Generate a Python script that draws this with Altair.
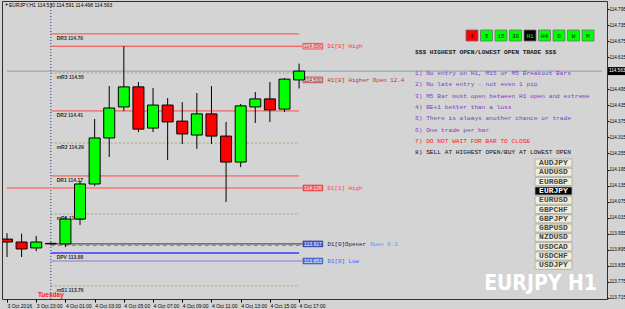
import json
import altair as alt
import pandas as pd

# ---------------- data ----------------
hours  = [-3, -2, -1, 0, 1, 2, 3, 4, 5, 6, 7, 8, 9, 10, 11, 12, 13, 14, 15, 16, 17]
opens  = [113.935, 113.924, 113.902, 113.917, 113.917, 114.010, 114.141, 114.313, 114.429, 114.504, 114.350,
          114.436, 114.376, 114.324, 114.403, 114.320, 114.223, 114.429, 114.459, 114.421, 114.530]
highs  = [113.957, 113.955, 113.947, 113.922, 114.018, 114.152, 114.384, 114.507, 114.656, 114.522, 114.500,
          114.462, 114.447, 114.481, 114.507, 114.373, 114.440, 114.485, 114.522, 114.537, 114.591]
lows   = [113.868, 113.868, 113.890, 113.915, 113.905, 113.988, 114.133, 114.242, 114.414, 114.335, 114.335,
          114.231, 114.290, 114.272, 114.290, 114.074, 114.204, 114.369, 114.373, 114.410, 114.498]
closes = [113.924, 113.898, 113.924, 113.919, 114.010, 114.141, 114.313, 114.425, 114.504, 114.346, 114.436,
          114.373, 114.328, 114.403, 114.320, 114.223, 114.433, 114.459, 114.418, 114.533, 114.563]

xtick_hours = [-3, -1, 1, 3, 5, 7, 9, 11, 13, 15, 17]
xtick_labels = ["3 Oct 2016", "3 Oct 23:00", "4 Oct 01:00", "4 Oct 03:00", "4 Oct 05:00", "4 Oct 07:00",
                "4 Oct 09:00", "4 Oct 11:00", "4 Oct 13:00", "4 Oct 15:00", "4 Oct 17:00"]
ytick_values = [113.715, 113.775, 113.835, 113.895, 113.955, 114.015, 114.075, 114.135, 114.195, 114.255,
                114.315, 114.375, 114.435, 114.495, 114.615, 114.675, 114.735, 114.795]

bid_price = 114.563
title_text = "EURJPY,H1  114.530 114.591 114.498 114.563"

pivot_names  = ["DR3", "mR3", "DR2", "mR2", "DR1", "mR1", "DPV", "mS1"]
pivot_prices = [114.702, 114.556, 114.414, 114.294, 114.171, 114.029, 113.883, 113.760]
pivot_texts  = ["114.70", "114.55", "114.41", "114.29", "114.17", "114.03", "113.88", "113.76"]

d1_names  = ["D1[0] High", "H1[0] Higher Open 12.4", "D1[1] High", "D1[0]Opener", "D1[0] Low"]
d1_prices = [114.656, 114.530, 114.126, 113.917, 113.853]
d1_boxes  = ["114.656", "114.530", "114.126", "113.917", "113.853"]
opener_extra = "Open 6.3"

tf_labels = ["1", "5", "15", "30", "H1", "H4", "D", "W", "M"]
tf_state  = ["red", "green", "green", "green", "active", "green", "green", "green", "green"]

header_text = "$$$ HIGHEST OPEN/LOWEST OPEN TRADE $$$"
rules_text = ["1) No entry on H1, M15 or M5 Breakout Bars",
              "2) No late entry - not even 1 pip",
              "3) M5 Bar must open between H1 open and extreme",
              "4) BE+1 better than a loss",
              "5) There is always another chance or trade",
              "6) One trade per bar",
              "7) DO NOT WAIT FOR BAR TO CLOSE",
              "8) SELL AT HIGHEST OPEN/BUY AT LOWEST OPEN"]
rules_kind = ["rule", "rule", "rule", "rule", "rule", "rule", "warn", "key"]

pairs = ["AUDJPY", "AUDUSD", "EURGBP", "EURJPY", "EURUSD", "GBPCHF",
         "GBPJPY", "GBPUSD", "NZDUSD", "USDCAD", "USDCHF", "USDJPY"]
selected_pair = "EURJPY"
watermark = "EURJPY H1"
day_name = "Tuesday"

# ---------------- layout / style ----------------
PX_PER_HOUR = 14.85
W, H = 605, 298
X0 = -3.0
X1 = X0 + W / PX_PER_HOUR
Y0, Y1 = 113.711, 114.825
PPP = H / (Y1 - Y0)
BG = "#d4d4d4"
SANS = "Liberation Sans"
MONO = "Liberation Mono"

def hx(img_x):  # image pixel x -> hour value
    return X0 + (img_x - 2) / PX_PER_HOUR

xs = alt.Scale(domain=[X0, X1], nice=False, zero=False)
ys = alt.Scale(domain=[Y0, Y1], nice=False, zero=False)

label_expr = f"{json.dumps(xtick_labels)}[indexof({json.dumps(xtick_hours)}, datum.value)]"
xaxis = alt.Axis(values=xtick_hours, labelExpr=label_expr, title=None, grid=False, domain=False,
                 orient="bottom", labelAlign="left", labelBaseline="top", labelFont=SANS,
                 labelFontSize=5, labelColor="#000000", tickColor="#000000", tickSize=3,
                 labelPadding=1, labelOverlap=False, labelFlush=False)
yaxis = alt.Axis(values=ytick_values, format=".3f", title=None, grid=False, domain=False,
                 orient="right", labelFont=SANS, labelFontSize=4.6, labelColor="#000000",
                 tickColor="#000000", tickSize=2, labelPadding=0, labelOverlap=False, labelFlush=False)

def X(f):
    return alt.X(f, type="quantitative", scale=xs, axis=xaxis)

def Y(f):
    return alt.Y(f, type="quantitative", scale=ys, axis=yaxis)

layers = []

# --- bid line & day separator ---
bid_df = pd.DataFrame({"h0": [X0], "h1": [X1], "p": [bid_price]})
layers.append(alt.Chart(bid_df).mark_rule(color="#8a98ac", strokeWidth=1).encode(x=X("h0"), x2="h1", y=Y("p")))
sep_df = pd.DataFrame({"h": [0]})
layers.append(alt.Chart(sep_df).mark_rule(color="#34347a", strokeWidth=1, strokeDash=[1, 2]).encode(x=X("h")))

# --- pivot lines ---
piv = pd.DataFrame({"name": pivot_names, "price": pivot_prices, "txt": pivot_texts})
piv["h0"] = 0.0
piv["h1"] = 17.0
piv["lab"] = piv["name"] + "   " + piv["txt"]
piv["lx"] = 0.4
kind = ["P" if n == "DPV" else n[0] for n in pivot_names]
piv["kind"] = kind
styles = {"D": dict(color="#ff4a4a", strokeWidth=1),
          "m": dict(color="#a8a46a", strokeWidth=1, strokeDash=[2, 2]),
          "P": dict(color="#3a3aff", strokeWidth=1.5)}
for key, st in styles.items():
    sub = piv[piv["kind"] == key]
    layers.append(alt.Chart(sub).mark_rule(**st).encode(x=X("h0"), x2="h1", y=Y("price")))
layers.append(alt.Chart(piv).mark_text(align="left", baseline="middle", dy=4, font=SANS, fontSize=5,
                                       fontWeight="bold", color="#303030")
              .encode(x=X("lx"), y=Y("price"), text="lab"))

# --- D1 level lines ---
d1 = pd.DataFrame({"name": d1_names, "price": d1_prices, "box": d1_boxes})
end_h = hx(302)
d1_line_h0 = [0.0, None, X0, 0.0, 0.0]
d1_line_col = ["#ff4040", None, "#f08c8c", "#333333", "#7c7ce0"]
d1_line_w = [1, None, 2, 1, 1]
for i in range(len(d1)):
    if d1_line_h0[i] is None:
        continue
    seg = pd.DataFrame({"h0": [d1_line_h0[i]], "h1": [end_h], "p": [d1_prices[i]]})
    layers.append(alt.Chart(seg).mark_rule(color=d1_line_col[i], strokeWidth=d1_line_w[i])
                  .encode(x=X("h0"), x2="h1", y=Y("p")))
# dashed blue companion of the daily open
seg = pd.DataFrame({"h0": [0.0], "h1": [end_h], "p": [d1_prices[3] - 1.6 / PPP]})
layers.append(alt.Chart(seg).mark_rule(color="#5a8fd8", strokeWidth=1, strokeDash=[4, 3])
              .encode(x=X("h0"), x2="h1", y=Y("p")))

d1["bx0"] = hx(303)
d1["bx1"] = hx(323)
d1["bxc"] = hx(313)
d1["tx"] = hx(328)
d1["yb0"] = d1["price"] - 2.8 / PPP
d1["yb1"] = d1["price"] + 2.8 / PPP
d1["bfill"] = ["#efcaca", "#ddd0d0", "#f06262", "#3f5fcf", "#4f6fe0"]
d1["bstroke"] = ["#ff3030", "#b03030", "#e03030", "#203090", "#3050c0"]
d1["btext"] = ["#e02020", "#a02020", "#ffe8e8", "#ffffff", "#ffffff"]
d1["tcol"] = ["#ff3030", "#c03030", "#ff4040", "#202040", "#4060ff"]
layers.append(alt.Chart(d1).mark_rect(strokeWidth=0.8)
              .encode(x=X("bx0"), x2="bx1", y=Y("yb0"), y2="yb1",
                      fill=alt.Fill("bfill:N", scale=None), stroke=alt.Stroke("bstroke:N", scale=None)))
layers.append(alt.Chart(d1).mark_text(align="center", baseline="middle", font=SANS, fontSize=5)
              .encode(x=X("bxc"), y=Y("price"), text="box", color=alt.Color("btext:N", scale=None)))
layers.append(alt.Chart(d1).mark_text(align="left", baseline="middle", font=MONO, fontSize=5.8)
              .encode(x=X("tx"), y=Y("price"), text="name", color=alt.Color("tcol:N", scale=None)))
ex = pd.DataFrame({"tx": [hx(371)], "price": [d1_prices[3]], "t": [opener_extra]})
layers.append(alt.Chart(ex).mark_text(align="left", baseline="middle", font=MONO, fontSize=5.8, color="#4a9cf0")
              .encode(x=X("tx"), y=Y("price"), text="t"))

# --- candles ---
cdf = pd.DataFrame({"h": hours, "open": opens, "high": highs, "low": lows, "close": closes})
cdf["col"] = ["#00ff00" if c >= o else "#ff0000" for o, c in zip(opens, closes)]
layers.append(alt.Chart(cdf).mark_rule(color="#000000", strokeWidth=1, clip=True)
              .encode(x=X("h"), y=Y("low"), y2="high"))
layers.append(alt.Chart(cdf).mark_bar(size=11, stroke="#000000", strokeWidth=1, clip=True, orient="vertical")
              .encode(x=X("h"), y=Y("open"), y2="close", fill=alt.Fill("col:N", scale=None)))

# --- day name ---
dn = pd.DataFrame({"h": [0], "t": [day_name]})
layers.append(alt.Chart(dn).mark_text(color="#ff2020", fontWeight="bold", fontSize=6.5, font=SANS,
                                      baseline="bottom", align="center")
              .encode(x=X("h"), y=alt.value(H - 1), text="t"))

# --- pixel-space panel (plot coords = image coords - (2, 1)) ---
PX = lambda f: alt.X(f, type="quantitative", scale=None)
PY = lambda f: alt.Y(f, type="quantitative", scale=None)

fill_map = {"red": "#ff0000", "green": "#00ff00", "active": "#000000"}
text_map = {"red": "#200000", "green": "#003000", "active": "#00ff00"}
tf = pd.DataFrame({"lab": tf_labels, "state": tf_state})
tf["x"] = [464 + 14.5 * i for i in range(len(tf))]
tf["x2"] = tf["x"] + 12
tf["y"] = 29
tf["y2"] = 40
tf["cx"] = tf["x"] + 6
tf["cy"] = 34.5
tf["fill"] = tf["state"].map(fill_map)
tf["tcol"] = tf["state"].map(text_map)
layers.append(alt.Chart(tf).mark_rect(stroke="#707070", strokeWidth=0.8)
              .encode(x=PX("x"), x2="x2", y=PY("y"), y2="y2", fill=alt.Fill("fill:N", scale=None)))
layers.append(alt.Chart(tf).mark_text(font=MONO, fontSize=6, baseline="middle", align="center")
              .encode(x=PX("cx"), y=PY("cy"), text="lab", color=alt.Color("tcol:N", scale=None)))

hd = pd.DataFrame({"x": [413], "y": [51], "t": [header_text]})
layers.append(alt.Chart(hd).mark_text(font=MONO, fontSize=6.2, fontWeight="bold", align="left",
                                      baseline="middle", color="#222222")
              .encode(x=PX("x"), y=PY("y"), text="t"))

rk = {"rule": "#7b3fc4", "warn": "#ff2020", "key": "#111111"}
rl = pd.DataFrame({"t": rules_text, "kind": rules_kind})
rl["x"] = 413
rl["y"] = [72 + 11.3 * i for i in range(len(rl))]
rl["c"] = rl["kind"].map(rk)
layers.append(alt.Chart(rl).mark_text(font=MONO, fontSize=6.2, align="left", baseline="middle")
              .encode(x=PX("x"), y=PY("y"), text="t", color=alt.Color("c:N", scale=None)))

pb = pd.DataFrame({"t": pairs})
pb["x"] = 533
pb["x2"] = 570
pb["cx"] = 551.5
pb["cy"] = [162 + 9.3 * i for i in range(len(pb))]
pb["y"] = pb["cy"] - 4
pb["y2"] = pb["cy"] + 4
pb["fill"] = ["#000000" if p == selected_pair else "#f1eedb" for p in pairs]
pb["tc"] = ["#ffffff" if p == selected_pair else "#454545" for p in pairs]
layers.append(alt.Chart(pb).mark_rect(stroke="#a8a8a0", strokeWidth=0.8)
              .encode(x=PX("x"), x2="x2", y=PY("y"), y2="y2", fill=alt.Fill("fill:N", scale=None)))
layers.append(alt.Chart(pb).mark_text(font=MONO, fontSize=8, fontWeight="bold", align="center", baseline="middle")
              .encode(x=PX("cx"), y=PY("cy"), text="t", color=alt.Color("tc:N", scale=None)))

wm = pd.DataFrame({"x": [595], "y": [289], "t": [watermark]})
layers.append(alt.Chart(wm).mark_text(font="DejaVu Sans Condensed, sans-serif",
                                      fontSize=21, fontWeight="bold", color="#ffffff",
                                      align="right", baseline="alphabetic")
              .encode(x=PX("x"), y=PY("y"), text="t"))

tt = pd.DataFrame({"x": [7], "y": [4], "t": [title_text]})
layers.append(alt.Chart(tt).mark_text(font=SANS, fontSize=5, align="left", baseline="middle", color="#000000")
              .encode(x=PX("x"), y=PY("y"), text="t"))
tri = pd.DataFrame({"x": [2.5], "y": [4], "t": ["▼"]})
layers.append(alt.Chart(tri).mark_text(font=SANS, fontSize=4, align="left", baseline="middle", color="#000000")
              .encode(x=PX("x"), y=PY("y"), text="t"))

# current price tag on the axis
cp = pd.DataFrame({"x": [W + 1], "x2": [W + 18], "cy": [(Y1 - bid_price) * PPP], "t": [f"{bid_price:.3f}"]})
cp["y"] = cp["cy"] - 4
cp["y2"] = cp["cy"] + 4
cp["tx"] = W + 2
layers.append(alt.Chart(cp).mark_rect(color="#000000").encode(x=PX("x"), x2="x2", y=PY("y"), y2="y2"))
layers.append(alt.Chart(cp).mark_text(font=SANS, fontSize=4.6, align="left", baseline="middle", color="#ffffff")
              .encode(x=PX("tx"), y=PY("cy"), text="t"))

chart = (alt.layer(*layers)
         .properties(width=W, height=H, background=BG,
                     padding={"left": 2, "top": 1, "right": 18, "bottom": 10},
                     autosize=alt.AutoSizeParams(type="none"))
         .configure_view(stroke="#303030", strokeWidth=1, fill=BG))

chart.save("out.html", embed_options={"renderer": "svg", "actions": False})
